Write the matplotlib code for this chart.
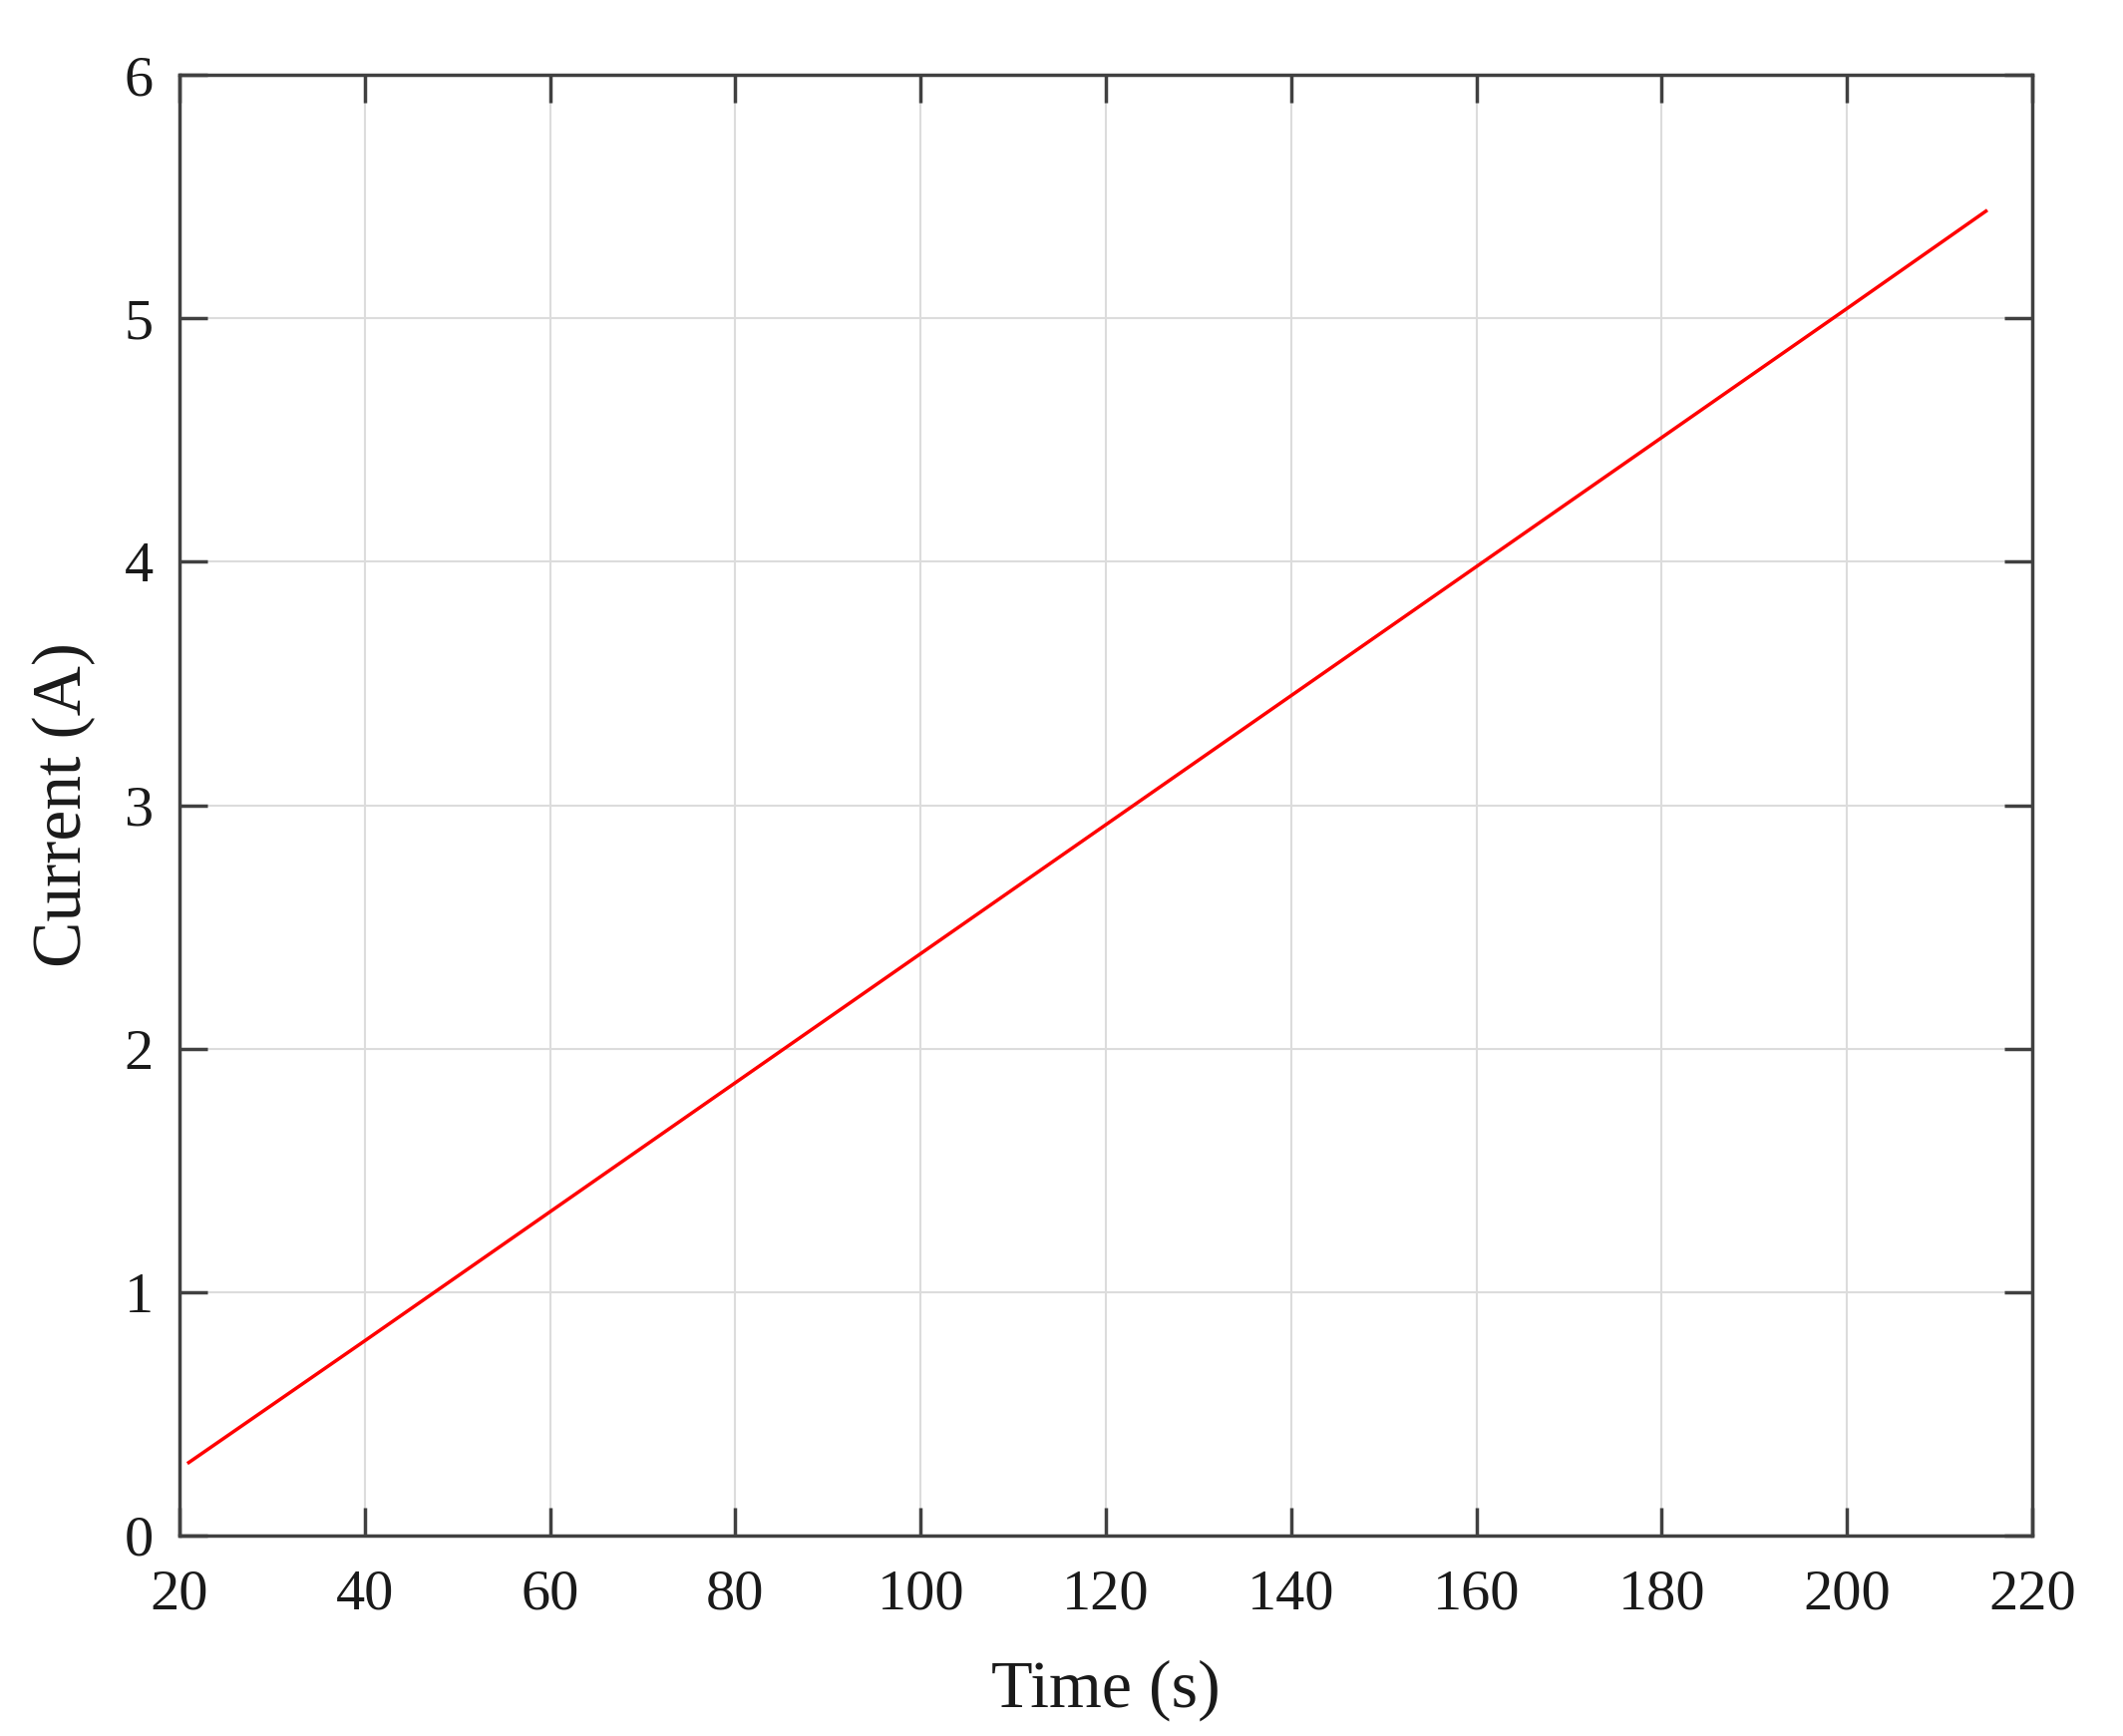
import matplotlib
matplotlib.use("Agg")
import matplotlib.pyplot as plt

time_s = [21, 40, 60, 80, 100, 120, 140, 160, 180, 200, 215]
current_a = [0.30, 0.80, 1.33, 1.86, 2.39, 2.92, 3.45, 3.98, 4.51, 5.04, 5.44]
x_ticks = [20, 40, 60, 80, 100, 120, 140, 160, 180, 200, 220]
y_ticks = [0, 1, 2, 3, 4, 5, 6]

plt.rcParams['font.family'] = ['Liberation Serif', 'DejaVu Serif']

fig = plt.figure(figsize=(21.29, 17.41), dpi=100)
ax = fig.add_axes([180/2129, 1 - 1540/1741, (2038-180)/2129, (1540-75)/1741])

ax.plot(time_s, current_a, color='#ff0000', lw=2.5)
ax.set_xlim(20, 220)
ax.set_ylim(0, 6)
ax.set_xticks(x_ticks)
ax.set_yticks(y_ticks)
ax.grid(True, color='#dcdcdc', lw=1.5)
ax.set_axisbelow(True)
for s in ax.spines.values():
    s.set_color('#404040')
    s.set_linewidth(2.5)
ax.tick_params(direction='in', length=20, width=2.5, color='#404040',
               top=True, right=True, labelsize=42, labelcolor='#1a1a1a')
ax.tick_params(axis='x', pad=24)
ax.tick_params(axis='y', pad=19)
ax.set_xlabel('Time (s)', fontsize=49, color='#1a1a1a', labelpad=28)
ax.set_ylabel('Current (A)', fontsize=50, color='#1a1a1a', labelpad=20)

fig.savefig('out.png', dpi=100, facecolor='white')
